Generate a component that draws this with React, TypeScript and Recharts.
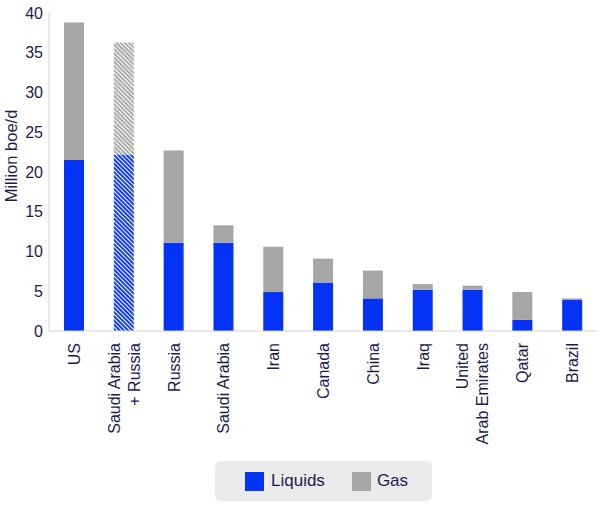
import React from "react";
import { BarChart, Bar, XAxis, YAxis, Cell, Legend, Label } from "recharts";

const categories = [
  "US",
  "Saudi Arabia\n+ Russia",
  "Russia",
  "Saudi Arabia",
  "Iran",
  "Canada",
  "China",
  "Iraq",
  "United\nArab Emirates",
  "Qatar",
  "Brazil",
];
const liquids = [21.5, 22.2, 11.1, 11.1, 4.9, 6.1, 4.1, 5.2, 5.2, 1.4, 3.9];
const gas = [17.3, 14.1, 11.6, 2.2, 5.7, 3.0, 3.5, 0.7, 0.5, 3.5, 0.2];
const combinedCategory = "Saudi Arabia\n+ Russia";
const yTicks = [0, 5, 10, 15, 20, 25, 30, 35, 40];

const BLUE = "#0433f5";
const GRAY = "#a6a6a6";
const INK = "#1c1b52";
const AXIS = "#d2d2d2";
const FONT = "'Liberation Sans', Arial, sans-serif";

const chartData = categories.map((name, i) => ({
  name,
  liquids: liquids[i],
  gas: gas[i],
}));

const CategoryTick = ({ x, y, payload }: any) => {
  const lines = String(payload.value).split("\n");
  return (
    <g>
      {lines.map((line, i) => {
        const bx = x + 6 + (i - (lines.length - 1) / 2) * 20;
        const ty = y + 4;
        return (
          <text
            key={i}
            x={bx}
            y={ty}
            transform={`rotate(-90 ${bx} ${ty})`}
            textAnchor="end"
            fill={INK}
            fontSize={16}
            fontFamily={FONT}
          >
            {line}
          </text>
        );
      })}
    </g>
  );
};

const LegendBox = () => (
  <div
    style={{
      width: 217,
      height: 40,
      background: "#ebebeb",
      borderRadius: 6,
      display: "flex",
      alignItems: "center",
      fontFamily: FONT,
      fontSize: 17,
      color: INK,
    }}
  >
    <span style={{ width: 19, height: 19, background: BLUE, marginLeft: 30 }} />
    <span style={{ marginLeft: 7 }}>Liquids</span>
    <span style={{ width: 19, height: 19, background: GRAY, marginLeft: 27 }} />
    <span style={{ marginLeft: 6 }}>Gas</span>
  </div>
);

export default function App() {
  return (
    <div style={{ position: "absolute", left: 0, top: 0, width: 601, height: 506, background: "#fff" }}>
      <BarChart
        width={601}
        height={506}
        data={chartData}
        margin={{ top: 13, right: 4, bottom: 0, left: 0 }}
      >
        <defs>
          <pattern id="hatchBlue" patternUnits="userSpaceOnUse" width="3" height="3" patternTransform="rotate(-45)">
            <rect width="3" height="3" fill="#fff" />
            <rect width="1.9" height="3" fill={BLUE} />
          </pattern>
          <pattern id="hatchGray" patternUnits="userSpaceOnUse" width="3" height="3" patternTransform="rotate(-45)">
            <rect width="3" height="3" fill="#fff" />
            <rect width="1.9" height="3" fill={GRAY} />
          </pattern>
        </defs>
        <XAxis
          dataKey="name"
          interval={0}
          height={175}
          axisLine={{ stroke: AXIS }}
          tickLine={false}
          tick={<CategoryTick />}
        />
        <YAxis
          width={49}
          domain={[0, 40]}
          ticks={yTicks}
          axisLine={{ stroke: AXIS }}
          tickLine={false}
          tickSize={6}
          tickMargin={0}
          tick={{ fill: INK, fontSize: 16, fontFamily: FONT }}
        >
          <Label
            content={() => (
              <text
                x={17}
                y={156}
                transform="rotate(-90 17 156)"
                textAnchor="middle"
                fill={INK}
                fontSize={16.5}
                fontFamily={FONT}
              >
                Million boe/d
              </text>
            )}
          />
        </YAxis>
        <Legend
          layout="horizontal"
          align="center"
          verticalAlign="middle"
          wrapperStyle={{ left: 215, top: 461, width: 217, height: 40 }}
          content={<LegendBox />}
        />
        <Bar dataKey="liquids" name="Liquids" stackId="a" fill={BLUE} barSize={20} isAnimationActive={false}>
          {chartData.map((d) => (
            <Cell key={d.name} fill={d.name === combinedCategory ? "url(#hatchBlue)" : BLUE} />
          ))}
        </Bar>
        <Bar dataKey="gas" name="Gas" stackId="a" fill={GRAY} barSize={20} isAnimationActive={false}>
          {chartData.map((d) => (
            <Cell key={d.name} fill={d.name === combinedCategory ? "url(#hatchGray)" : GRAY} />
          ))}
        </Bar>
      </BarChart>
    </div>
  );
}
